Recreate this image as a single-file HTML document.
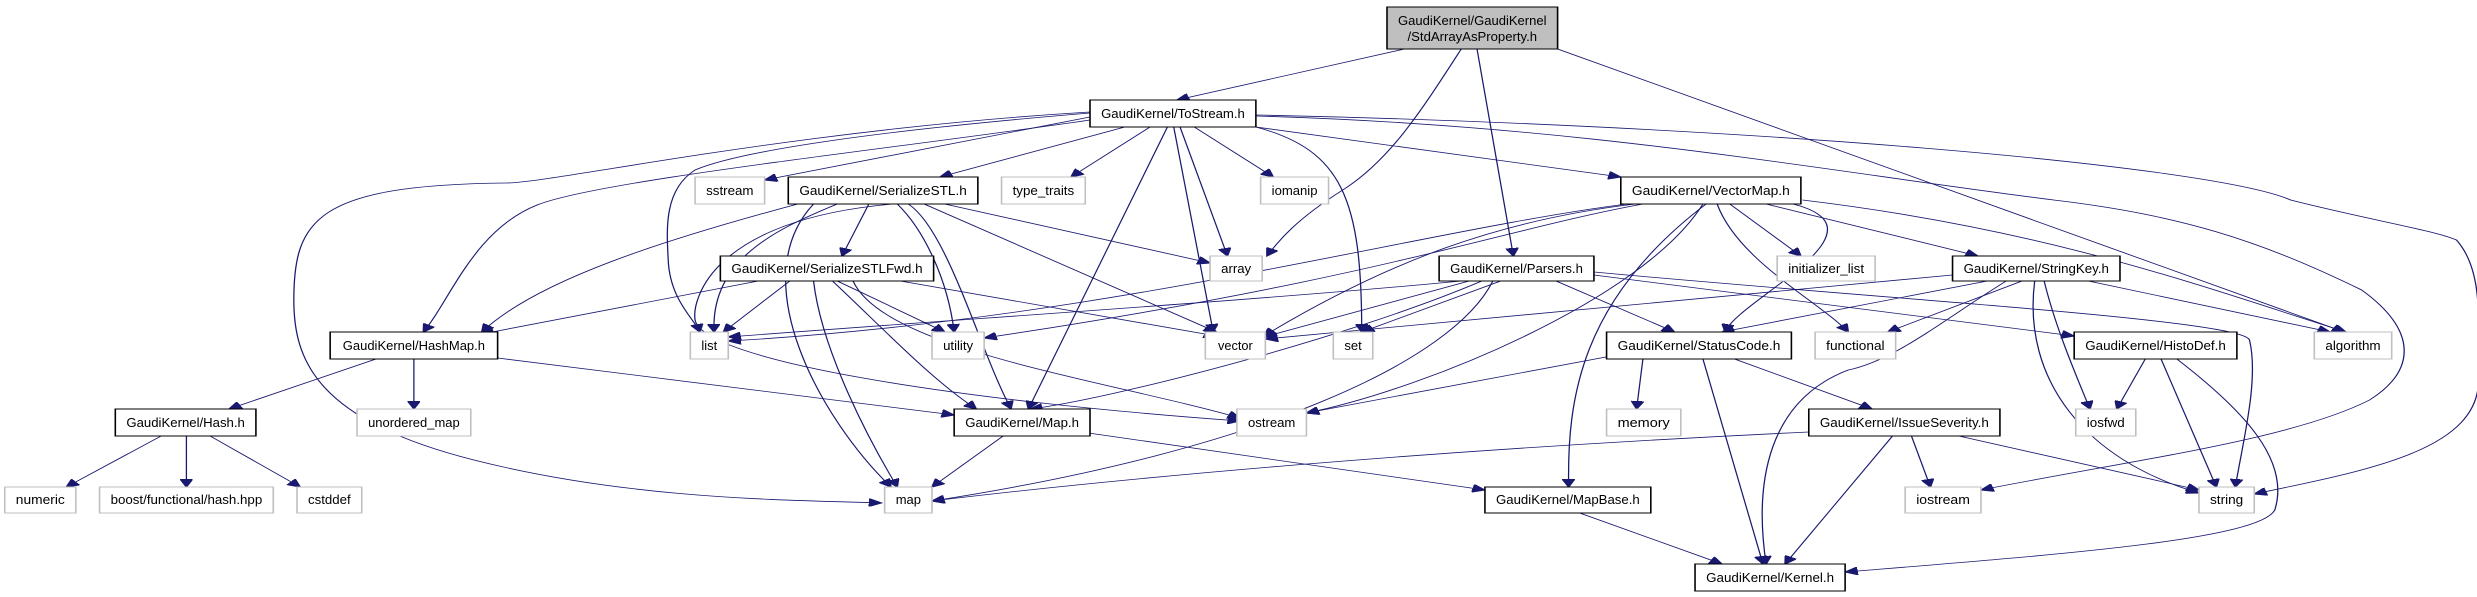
<!DOCTYPE html>
<html><head><meta charset="utf-8"><style>
html,body{margin:0;padding:0;background:#fff;}
svg{display:block;}
text{font-family:"Liberation Sans",sans-serif;font-size:13px;fill:#000;}
.n{fill:#fff;stroke:#000;stroke-width:1;}
.g{fill:#fff;stroke:#bfbfbf;stroke-width:1;}
.e path{fill:none;stroke:#191970;stroke-width:0.8;}
</style></head><body>
<svg width="2477" height="597" viewBox="0 0 1568 597" preserveAspectRatio="none" xmlns="http://www.w3.org/2000/svg">
<defs><marker id="a" markerUnits="userSpaceOnUse" markerWidth="9" markerHeight="8" refX="8" refY="4" orient="auto"><path d="M0,0 L8,4 L0,8 z" fill="#191970" stroke="#191970"/></marker></defs>
<g class="e">
<path marker-end="url(#a)" d="M889,49 L745,100"/>
<path marker-end="url(#a)" d="M925,49 C900,110 880,160 850,190 C820,220 810,240 802,256"/>
<path marker-end="url(#a)" d="M935,49 L958,256"/>
<path marker-end="url(#a)" d="M986,49 L1484,332"/>
<path marker-end="url(#a)" d="M690,117 L484,180"/>
<path marker-end="url(#a)" d="M712,127 L595,177"/>
<path marker-end="url(#a)" d="M728,127 L678,177"/>
<path marker-end="url(#a)" d="M756,127 L806,177"/>
<path marker-end="url(#a)" d="M795,127 L1026,177"/>
<path marker-end="url(#a)" d="M747,127 L777,256"/>
<path marker-end="url(#a)" d="M743,127 L768,332"/>
<path marker-end="url(#a)" d="M739,127 L651,409"/>
<path marker-end="url(#a)" d="M795,127 C850,150 862,200 862,332"/>
<path marker-end="url(#a)" d="M690,113 C560,130 470,150 440,170 C420,190 422,230 423,260 C424,300 440,320 443,332"/>
<path marker-end="url(#a)" d="M690,120 C560,150 380,180 340,205 C300,230 285,300 268,332"/>
<path marker-end="url(#a)" d="M690,112 C500,130 350,183 320,183 C200,185 186,220 186,300 C186,360 200,420 300,460 C400,500 500,500 558,503"/>
<path marker-end="url(#a)" d="M795,116 C1000,125 1150,170 1300,200 C1380,215 1430,240 1495,290 C1530,330 1530,370 1500,400 C1450,440 1350,460 1254,490"/>
<path marker-end="url(#a)" d="M795,115 C1100,125 1400,165 1450,200 C1500,220 1540,230 1555,240 C1572,270 1569,320 1569,380 C1569,450 1500,470 1427,494"/>
<path marker-end="url(#a)" d="M505,204 C420,240 340,280 305,332"/>
<path marker-end="url(#a)" d="M530,204 C490,230 450,260 452,332"/>
<path marker-end="url(#a)" d="M515,204 C470,280 520,420 564,487"/>
<path marker-end="url(#a)" d="M550,204 L533,256"/>
<path marker-end="url(#a)" d="M568,204 C585,230 600,280 604,332"/>
<path marker-end="url(#a)" d="M575,204 C600,230 620,350 640,409"/>
<path marker-end="url(#a)" d="M585,204 L770,332"/>
<path marker-end="url(#a)" d="M598,204 L766,263"/>
<path marker-end="url(#a)" d="M565,204 C450,220 438,300 440,320 C445,360 600,400 785,421"/>
<path marker-end="url(#a)" d="M480,281 L305,334"/>
<path marker-end="url(#a)" d="M500,281 L458,332"/>
<path marker-end="url(#a)" d="M530,281 L598,332"/>
<path marker-end="url(#a)" d="M515,281 C520,350 550,440 568,487"/>
<path marker-end="url(#a)" d="M527,281 C560,330 590,380 618,409"/>
<path marker-end="url(#a)" d="M570,281 L770,336"/>
<path marker-end="url(#a)" d="M540,281 C560,350 700,380 785,418"/>
<path marker-end="url(#a)" d="M238,359 L145,409"/>
<path marker-end="url(#a)" d="M262,359 L262,409"/>
<path marker-end="url(#a)" d="M315,358 L604,415"/>
<path marker-end="url(#a)" d="M102,436 L42,487"/>
<path marker-end="url(#a)" d="M118,436 L118,487"/>
<path marker-end="url(#a)" d="M133,436 L190,487"/>
<path marker-end="url(#a)" d="M635,436 L590,487"/>
<path marker-end="url(#a)" d="M689,433 L940,490"/>
<path marker-end="url(#a)" d="M1035,204 C950,220 880,260 800,336"/>
<path marker-end="url(#a)" d="M1040,204 C950,230 870,280 623,338"/>
<path marker-end="url(#a)" d="M1030,204 C900,230 700,320 461,341"/>
<path marker-end="url(#a)" d="M1095,204 L1140,256"/>
<path marker-end="url(#a)" d="M1118,204 L1252,256"/>
<path marker-end="url(#a)" d="M1135,204 C1200,230 1100,300 1092,332"/>
<path marker-end="url(#a)" d="M1087,204 C1100,260 1150,300 1170,332"/>
<path marker-end="url(#a)" d="M1141,200 C1300,230 1400,290 1485,332"/>
<path marker-end="url(#a)" d="M1078,204 C1040,300 900,390 827,413"/>
<path marker-end="url(#a)" d="M1080,204 C1000,300 992,400 993,487"/>
<path marker-end="url(#a)" d="M925,281 C800,300 600,320 461,337"/>
<path marker-end="url(#a)" d="M930,281 L800,337"/>
<path marker-end="url(#a)" d="M950,281 L862,332"/>
<path marker-end="url(#a)" d="M945,281 C920,360 800,450 590,501"/>
<path marker-end="url(#a)" d="M938,281 C850,340 700,400 652,409"/>
<path marker-end="url(#a)" d="M985,281 L1060,332"/>
<path marker-end="url(#a)" d="M1009,275 L1313,336"/>
<path marker-end="url(#a)" d="M1009,272 C1200,300 1420,320 1424,340 C1430,380 1420,440 1415,487"/>
<path marker-end="url(#a)" d="M1236,275 L801,339"/>
<path marker-end="url(#a)" d="M1258,281 L1090,332"/>
<path marker-end="url(#a)" d="M1280,281 L1195,332"/>
<path marker-end="url(#a)" d="M1322,281 L1475,332"/>
<path marker-end="url(#a)" d="M1294,281 C1300,320 1310,360 1323,409"/>
<path marker-end="url(#a)" d="M1288,281 C1280,380 1320,460 1392,493"/>
<path marker-end="url(#a)" d="M1270,281 C1230,320 1200,360 1170,370 C1120,400 1110,480 1118,564"/>
<path marker-end="url(#a)" d="M1020,356 L827,413"/>
<path marker-end="url(#a)" d="M1040,359 L1036,409"/>
<path marker-end="url(#a)" d="M1098,359 L1185,409"/>
<path marker-end="url(#a)" d="M1078,359 L1116,564"/>
<path marker-end="url(#a)" d="M1145,432 C900,450 700,480 590,501"/>
<path marker-end="url(#a)" d="M1210,436 L1222,487"/>
<path marker-end="url(#a)" d="M1240,436 L1392,490"/>
<path marker-end="url(#a)" d="M1198,436 L1130,564"/>
<path marker-end="url(#a)" d="M1358,359 L1340,409"/>
<path marker-end="url(#a)" d="M1368,359 L1403,487"/>
<path marker-end="url(#a)" d="M1378,359 C1420,410 1450,460 1440,510 C1430,540 1300,555 1168,572"/>
<path marker-end="url(#a)" d="M1000,513 L1090,564"/>
</g>
<g>
<rect x="878" y="7" width="108" height="42" fill="#bfbfbf" stroke="#000"/>
<text x="932" y="25" text-anchor="middle" textLength="94" lengthAdjust="spacingAndGlyphs">GaudiKernel/GaudiKernel</text>
<text x="932" y="41" text-anchor="middle" textLength="82" lengthAdjust="spacingAndGlyphs">/StdArrayAsProperty.h</text>
</g>
<g>
<rect class="n" x="690" y="100" width="105" height="27"/><text x="742.5" y="118" text-anchor="middle" textLength="91" lengthAdjust="spacingAndGlyphs">GaudiKernel/ToStream.h</text>
<rect class="g" x="440" y="177" width="44" height="27"/><text x="462" y="195" text-anchor="middle" textLength="30" lengthAdjust="spacingAndGlyphs">sstream</text>
<rect class="n" x="499" y="177" width="120" height="27"/><text x="559" y="195" text-anchor="middle" textLength="106" lengthAdjust="spacingAndGlyphs">GaudiKernel/SerializeSTL.h</text>
<rect class="g" x="634" y="177" width="53" height="27"/><text x="660.5" y="195" text-anchor="middle" textLength="39" lengthAdjust="spacingAndGlyphs">type_traits</text>
<rect class="g" x="798" y="177" width="43" height="27"/><text x="819.5" y="195" text-anchor="middle" textLength="29" lengthAdjust="spacingAndGlyphs">iomanip</text>
<rect class="n" x="1026" y="177" width="114" height="27"/><text x="1083" y="195" text-anchor="middle" textLength="100" lengthAdjust="spacingAndGlyphs">GaudiKernel/VectorMap.h</text>
<rect class="n" x="456" y="256" width="135" height="25"/><text x="523.5" y="273" text-anchor="middle" textLength="121" lengthAdjust="spacingAndGlyphs">GaudiKernel/SerializeSTLFwd.h</text>
<rect class="g" x="766" y="256" width="33" height="25"/><text x="782.5" y="273" text-anchor="middle" textLength="19" lengthAdjust="spacingAndGlyphs">array</text>
<rect class="n" x="911" y="256" width="98" height="25"/><text x="960" y="273" text-anchor="middle" textLength="84" lengthAdjust="spacingAndGlyphs">GaudiKernel/Parsers.h</text>
<rect class="g" x="1125" y="256" width="62" height="25"/><text x="1156" y="273" text-anchor="middle" textLength="48" lengthAdjust="spacingAndGlyphs">initializer_list</text>
<rect class="n" x="1236" y="256" width="106" height="25"/><text x="1289" y="273" text-anchor="middle" textLength="92" lengthAdjust="spacingAndGlyphs">GaudiKernel/StringKey.h</text>
<rect class="n" x="209" y="332" width="106" height="27"/><text x="262" y="350" text-anchor="middle" textLength="90" lengthAdjust="spacingAndGlyphs">GaudiKernel/HashMap.h</text>
<rect class="g" x="437" y="332" width="24" height="27"/><text x="449" y="350" text-anchor="middle" textLength="10" lengthAdjust="spacingAndGlyphs">list</text>
<rect class="g" x="590" y="332" width="33" height="27"/><text x="606.5" y="350" text-anchor="middle" textLength="19" lengthAdjust="spacingAndGlyphs">utility</text>
<rect class="g" x="763" y="332" width="38" height="27"/><text x="782" y="350" text-anchor="middle" textLength="22" lengthAdjust="spacingAndGlyphs">vector</text>
<rect class="g" x="844" y="332" width="25" height="27"/><text x="856.5" y="350" text-anchor="middle" textLength="11" lengthAdjust="spacingAndGlyphs">set</text>
<rect class="n" x="1017" y="332" width="117" height="27"/><text x="1075.5" y="350" text-anchor="middle" textLength="103" lengthAdjust="spacingAndGlyphs">GaudiKernel/StatusCode.h</text>
<rect class="g" x="1149" y="332" width="51" height="27"/><text x="1174.5" y="350" text-anchor="middle" textLength="37" lengthAdjust="spacingAndGlyphs">functional</text>
<rect class="n" x="1313" y="332" width="103" height="27"/><text x="1364.5" y="350" text-anchor="middle" textLength="89" lengthAdjust="spacingAndGlyphs">GaudiKernel/HistoDef.h</text>
<rect class="g" x="1465" y="332" width="49" height="27"/><text x="1489.5" y="350" text-anchor="middle" textLength="35" lengthAdjust="spacingAndGlyphs">algorithm</text>
<rect class="n" x="73" y="409" width="89" height="27"/><text x="117.5" y="427" text-anchor="middle" textLength="75" lengthAdjust="spacingAndGlyphs">GaudiKernel/Hash.h</text>
<rect class="g" x="226" y="409" width="72" height="27"/><text x="262" y="427" text-anchor="middle" textLength="58" lengthAdjust="spacingAndGlyphs">unordered_map</text>
<rect class="n" x="604" y="409" width="86" height="27"/><text x="647" y="427" text-anchor="middle" textLength="72" lengthAdjust="spacingAndGlyphs">GaudiKernel/Map.h</text>
<rect class="g" x="783" y="409" width="44" height="27"/><text x="805" y="427" text-anchor="middle" textLength="30" lengthAdjust="spacingAndGlyphs">ostream</text>
<rect class="g" x="1017" y="409" width="47" height="27"/><text x="1040.5" y="427" text-anchor="middle" textLength="33" lengthAdjust="spacingAndGlyphs">memory</text>
<rect class="n" x="1145" y="409" width="121" height="27"/><text x="1205.5" y="427" text-anchor="middle" textLength="107" lengthAdjust="spacingAndGlyphs">GaudiKernel/IssueSeverity.h</text>
<rect class="g" x="1314" y="409" width="38" height="27"/><text x="1333" y="427" text-anchor="middle" textLength="24" lengthAdjust="spacingAndGlyphs">iosfwd</text>
<rect class="g" x="3" y="487" width="45" height="26"/><text x="25.5" y="504" text-anchor="middle" textLength="31" lengthAdjust="spacingAndGlyphs">numeric</text>
<rect class="g" x="63" y="487" width="110" height="26"/><text x="118" y="504" text-anchor="middle" textLength="96" lengthAdjust="spacingAndGlyphs">boost/functional/hash.hpp</text>
<rect class="g" x="188" y="487" width="41" height="26"/><text x="208.5" y="504" text-anchor="middle" textLength="27" lengthAdjust="spacingAndGlyphs">cstddef</text>
<rect class="g" x="560" y="487" width="30" height="26"/><text x="575" y="504" text-anchor="middle" textLength="16" lengthAdjust="spacingAndGlyphs">map</text>
<rect class="n" x="940" y="487" width="105" height="26"/><text x="992.5" y="504" text-anchor="middle" textLength="91" lengthAdjust="spacingAndGlyphs">GaudiKernel/MapBase.h</text>
<rect class="g" x="1206" y="487" width="48" height="26"/><text x="1230" y="504" text-anchor="middle" textLength="34" lengthAdjust="spacingAndGlyphs">iostream</text>
<rect class="g" x="1392" y="487" width="35" height="26"/><text x="1409.5" y="504" text-anchor="middle" textLength="21" lengthAdjust="spacingAndGlyphs">string</text>
<rect class="n" x="1073" y="564" width="95" height="27"/><text x="1120.5" y="582" text-anchor="middle" textLength="81" lengthAdjust="spacingAndGlyphs">GaudiKernel/Kernel.h</text>
</g>
</svg>
</body></html>
